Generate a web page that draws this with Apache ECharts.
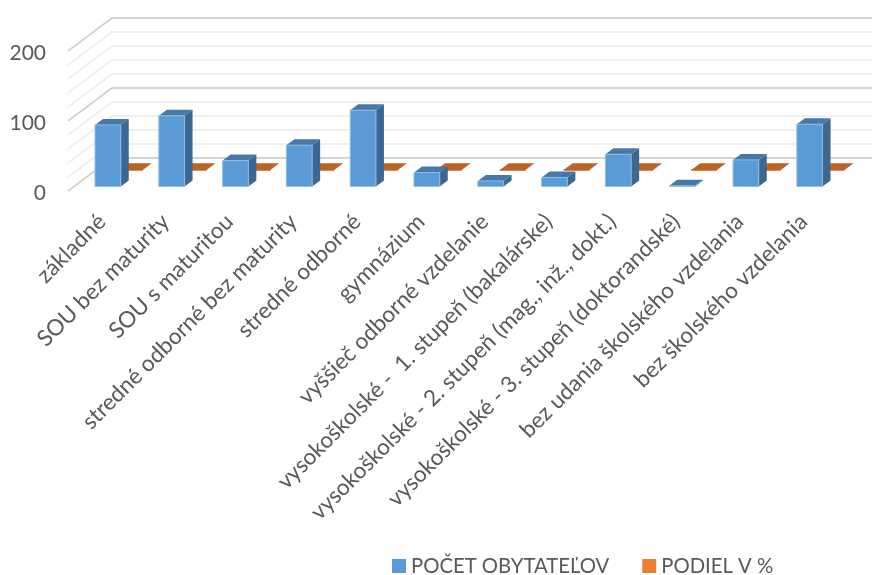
<!DOCTYPE html>
<html>
<head>
<meta charset="utf-8">
<style>html,body{margin:0;padding:0;background:#fff}#c{width:872px;height:575px}</style>
<script src="https://cdn.jsdelivr.net/npm/echarts@6/dist/echarts.min.js"></script>
</head>
<body>
<div id="c"></div>
<script>
const categories = ['základné','SOU bez maturity','SOU s maturitou','stredné odborné bez maturity','stredné odborné','gymnázium','vyššieč odborné vzdelanie','vysokoškolské -  1. stupeň (bakalárske)','vysokoškolské - 2. stupeň (mag., inž., dokt.)','vysokoškolské - 3. stupeň (doktorandské)','bez udania školského vzdelania','bez školského vzdelania'];
const obyvatelia = [88,101,37,59,109,20,8,13,46,1,38,89];
const podiel = [0.14,0.17,0.06,0.10,0.18,0.03,0.01,0.02,0.08,0.00,0.06,0.15];
const gridValues = [0,20,40,60,80,100,120,140,160,180,200];

const DX = 44, DY = -33;
function proj(p, d){ return [p[0] + DX*d, p[1] + DY*d]; }

function wallItem(params, api){
  const v = api.value(0), cs = params.coordSys;
  const y = api.coord([0, v])[1];
  const major = v % 100 === 0;
  const style = {stroke: major ? '#d4d4d4' : '#efefef', lineWidth: 2, fill: null};
  const a = [cs.x - 2, y], b = proj(a, 1), c = [880, b[1]];
  return {type:'polyline', shape:{points:[a,b,c]}, style: style, silent:true};
}
function barRenderer(d0, d1, cols){
  return function(params, api){
    const i = api.value(0), v = api.value(1);
    const base = api.coord([i, 0]), top = api.coord([i, v]);
    const w = api.size([1, 0])[0] * 0.403;
    const l = base[0] - w/2, r = base[0] + w/2;
    const P = (x, y, d) => proj([x, y], d);
    const yb = base[1], yt = top[1];
    return {type:'group', children:[
      {type:'polygon', shape:{points:[P(r,yb,d0),P(r,yb,d1),P(r,yt,d1),P(r,yt,d0)]}, style:{fill:cols.side}},
      {type:'polygon', shape:{points:[P(l,yt,d0),P(r,yt,d0),P(r,yt,d1),P(l,yt,d1)]}, style:{fill:cols.top}},
      {type:'polygon', shape:{points:[P(l,yb,d0),P(r,yb,d0),P(r,yt,d0),P(l,yt,d0)]}, style:{fill:cols.front, stroke:cols.edge, lineWidth:1}}
    ]};
  };
}

const chart = echarts.init(document.getElementById('c'), null, {renderer:'canvas'});
const font = 'Lato';
chart.setOption({
  animation:false,
  backgroundColor:'#fff',
  grid:{left:70, top:51, width:765.6, height:140},
  xAxis:{type:'category', data:categories, axisLine:{show:false}, axisTick:{show:false}, splitLine:{show:false},
    axisLabel:{interval:0, rotate:45, margin:27, fontFamily:font, fontSize:22.5, color:'#595959'}},
  yAxis:{type:'value', min:0, max:200, interval:100, axisLine:{show:false}, axisTick:{show:false}, splitLine:{show:false},
    axisLabel:{margin:24, fontFamily:font, fontSize:21, color:'#595959', verticalAlign:'top', lineHeight:4, showMinLabel:true, showMaxLabel:true}},
  legend:{data:['POČET OBYTATEĽOV','PODIEL V %'], left:387, top:551, icon:'rect', itemWidth:14, itemHeight:14, itemGap:33,
    textStyle:{fontFamily:font, fontSize:20.3, color:'#595959'}},
  series:[
    {type:'custom', name:'wall', silent:true, clip:false, z:1, data:gridValues.map(v=>[v]), encode:{y:0}, renderItem:wallItem},
    {type:'custom', name:'PODIEL V %', clip:false, z:2, itemStyle:{color:'#ed7d31'}, encode:{x:0,y:1},
      data:podiel.map((v,i)=>[i,v]),
      renderItem:barRenderer(0.636,0.84,{front:'#ed7d31',side:'#ad5a24',top:'#be6226',edge:'#be6226'})},
    {type:'custom', name:'POČET OBYTATEĽOV', clip:false, z:3, itemStyle:{color:'#5b9bd5'}, encode:{x:0,y:1},
      data:obyvatelia.map((v,i)=>[i,v]),
      renderItem:barRenderer(0.136,0.318,{front:'#5b9bd5',side:'#3c6790',top:'#4678a8',edge:'#8fbce3'})}
  ]
});
</script>
</body>
</html>
